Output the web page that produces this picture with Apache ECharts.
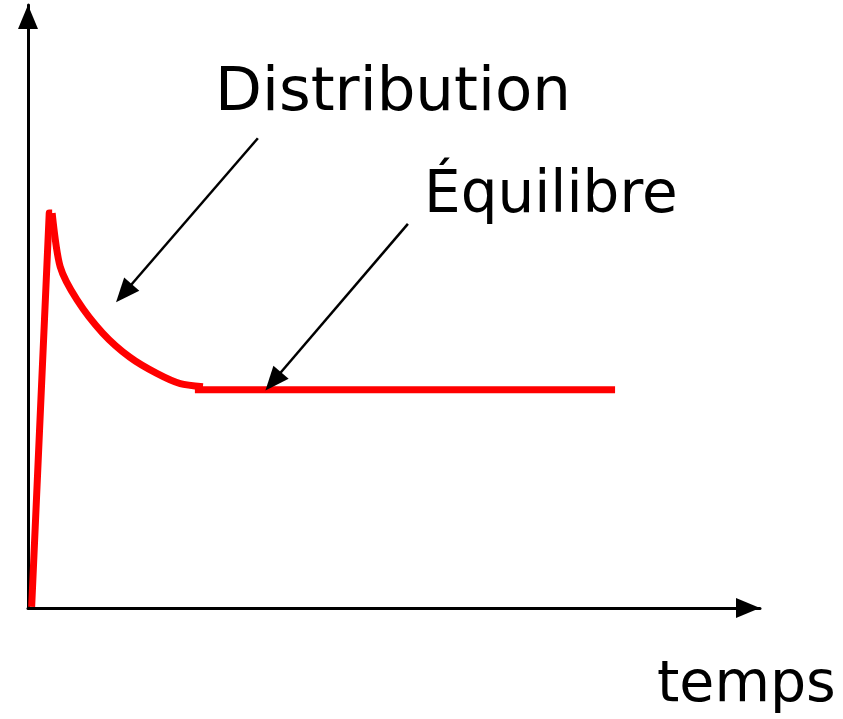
<!DOCTYPE html>
<html><head><meta charset="utf-8">
<script src="https://cdn.jsdelivr.net/npm/echarts@6/dist/echarts.min.js"></script>
<style>html,body{margin:0;padding:0;background:#fff}#c{width:843px;height:719px}</style>
</head><body><div id="c"></div>
<script>
// Concentration vs time (arbitrary units)
const riseX = [0.5, 2.9, 3.3];
const riseY = [0.2, 65.5, 65.5];
const decayX = [3.3, 4.4, 6.7, 10.2, 13.9, 17.6, 20.8, 23.9];
const decayY = [65.5, 56.6, 51.1, 45.6, 41.6, 38.9, 37.2, 36.7];
const plateauX = [22.8, 80.2];
const plateauY = [36.2, 36.2];
const labels = { distribution: 'Distribution', equilibre: 'Équilibre', xName: 'temps' };
const arrowDistribution = [[31.4, 77.9], [13.1, 52.2]];
const arrowEquilibre = [[51.9, 63.7], [33.5, 37.6]];

const chart = echarts.init(document.getElementById('c'), null, {renderer: 'canvas'});
const FONT = 'DejaVu Sans';
const axisCommon = () => ({
  type: 'value', min: 0, max: 100,
  axisLabel: {show: false}, axisTick: {show: false}, splitLine: {show: false},
  axisLine: {show: true, lineStyle: {color: '#000', width: 3}, symbol: ['none', 'triangle'], symbolSize: [20, 24], symbolOffset: [0, -12]}
});
const red = {color: '#ff0000', width: 7, cap: 'butt', join: 'round'};
const pairs = (xs, ys) => xs.map((x, i) => [x, ys[i]]);
const mkArrow = (a) => [{coord: a[0], symbol: 'none'}, {coord: a[1], symbol: 'triangle'}];
chart.setOption({
  animation: false,
  backgroundColor: '#fff',
  grid: {left: 28, right: 83, top: 5, bottom: 111},
  xAxis: axisCommon(),
  yAxis: axisCommon(),
  series: [
    {type: 'line', data: pairs(riseX, riseY), showSymbol: false, lineStyle: red},
    {type: 'line', data: pairs(decayX, decayY), smooth: 0.25, showSymbol: false, lineStyle: red},
    {type: 'line', data: pairs(plateauX, plateauY), showSymbol: false, lineStyle: red,
     markLine: {silent: true, symbol: ['none', 'triangle'], symbolSize: [20, 24],
       lineStyle: {color: '#000', width: 2.5, type: 'solid'}, label: {show: false},
       data: [mkArrow(arrowDistribution), mkArrow(arrowEquilibre)]}}
  ],
  graphic: [
    {type: 'text', left: 215, top: 64, style: {text: labels.distribution, font: '61px ' + FONT, fill: '#000'}},
    {type: 'text', left: 424, top: 168, style: {text: labels.equilibre, font: '58px ' + FONT, fill: '#000'}},
    {type: 'text', left: 657, top: 658, style: {text: labels.xName, font: '57px ' + FONT, fill: '#000'}}
  ]
});
</script></body></html>
